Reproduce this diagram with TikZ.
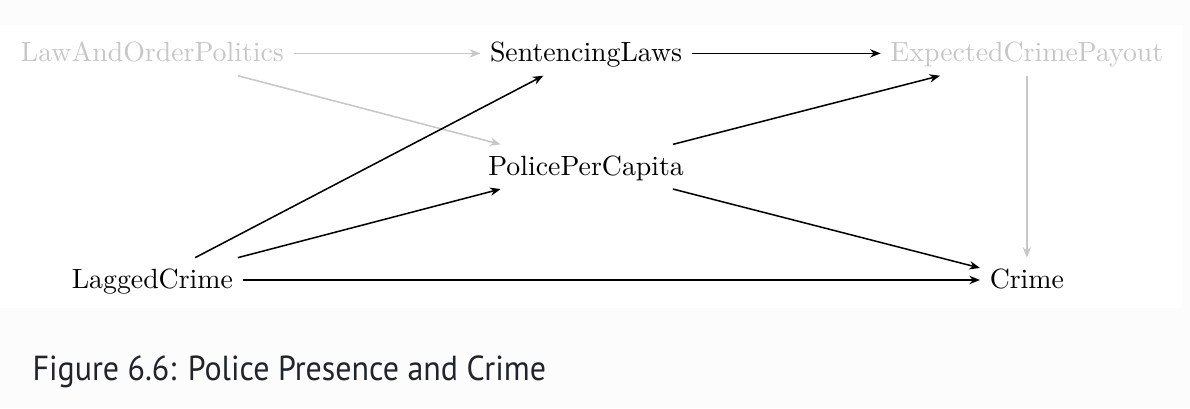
\documentclass[tikz,border=0pt]{standalone}
\usepackage{fontspec}
\newfontfamily\captionfont[FakeStretch=0.92]{PT Sans}
\usetikzlibrary{arrows.meta}
\definecolor{faded}{gray}{0.78}
\definecolor{pagegray}{gray}{0.99}
\definecolor{captiongray}{HTML}{212529}

\begin{document}
\begin{tikzpicture}[
	var/.style={inner sep=3.33pt, text height=7.5pt, text depth=1.5pt},
	latent/.style={var, text=faded},
	edge/.style={-{Stealth[length=3.8pt,width=3pt]}, line width=0.55pt},
	fadededge/.style={edge, draw=faded}]
	% page 15.04cm x 5.16cm, figure box in white
	\fill[pagegray] (0,0) rectangle (15.04,5.157);
	\fill[white] (0,1.264) rectangle (14.94,4.841);
	
	% top row
	\node[latent] (politics) at (1.926,4.482) {LawAndOrderPolitics};
	\node[var] (sentencing) at (7.407,4.482) {SentencingLaws};
	\node[latent] (payout) at (12.978,4.482) {ExpectedCrimePayout};
	% middle row
	\node[var] (police) at (7.407,3.050) {PolicePerCapita};
	% bottom row
	\node[var] (lagged) at (1.926,1.618) {LaggedCrime};
	\node[var] (crime) at (12.978,1.618) {Crime};
	
	% faded edges
	\draw[fadededge] (politics) -- (sentencing);
	\draw[fadededge] (politics) -- (police);
	\draw[fadededge] (payout) -- (crime);
	
	% black edges
	\draw[edge] (sentencing) -- (payout);
	\draw[edge] (police) -- (payout);
	\draw[edge] (police) -- (crime);
	\draw[edge] (lagged) -- (sentencing);
	\draw[edge] (lagged) -- (police);
	\draw[edge] (lagged) -- (crime);
	
	% caption
	\node[anchor=base west, inner sep=0, text=captiongray, font=\captionfont\fontsize{12.5}{15}\selectfont] (caption) at (0.404,0.346) {Figure 6.6: Police Presence and Crime};
\end{tikzpicture}
\end{document}
